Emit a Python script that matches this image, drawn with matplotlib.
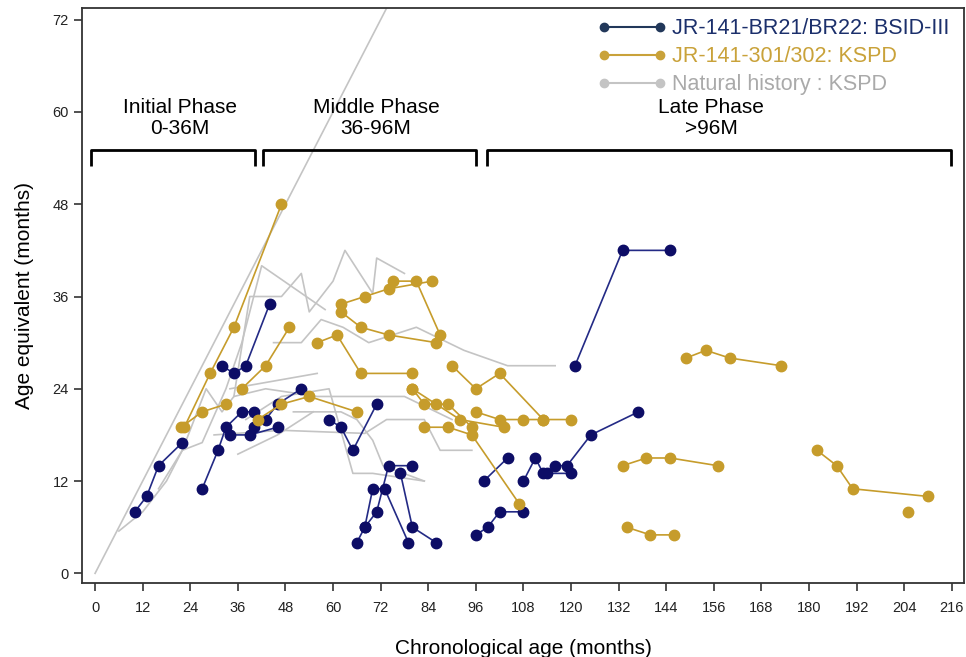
import matplotlib
matplotlib.use("Agg")
import matplotlib.pyplot as plt
from matplotlib.lines import Line2D

plt.rcParams['font.family'] = ['Liberation Sans', 'DejaVu Sans']

# JR-141-BR21/BR22 (BSID-III), one list per patient
bsid_x = [[10, 13, 16, 22], [27, 31, 33, 37, 40], [34, 39, 46], [40, 43, 46, 52],
          [32, 35, 38, 44], [59, 62, 65, 71], [66, 68, 71, 74, 80], [68, 70, 73, 79],
          [77, 80, 86], [96, 99, 102, 108], [98, 104], [108, 111, 113, 120],
          [114, 116, 119, 125, 137], [121, 133, 145]]
bsid_y = [[8, 10, 14, 17], [11, 16, 19, 21, 21], [18, 18, 19], [19, 20, 22, 24],
          [27, 26, 27, 35], [20, 19, 16, 22], [4, 6, 8, 14, 14], [6, 11, 11, 4],
          [13, 6, 4], [5, 6, 8, 8], [12, 15], [12, 15, 13, 13],
          [13, 14, 14, 18, 21], [27, 42, 42]]

# JR-141-301/302 (KSPD)
kspd_x = [[22.5, 29, 35, 47], [21.7, 27, 33], [37, 43, 49], [41, 47, 54, 66],
          [56, 61, 67, 80], [62, 68, 74, 85], [75, 81, 87], [62, 67, 74, 86],
          [80, 83, 86, 89, 95], [80, 92, 103], [83, 89, 95, 107],
          [90, 96, 102, 113, 120], [96, 102, 108, 113], [133, 139, 145, 157],
          [134, 140, 146], [149, 154, 160, 173], [182, 187, 191, 210], [205]]
kspd_y = [[19, 26, 32, 48], [19, 21, 22], [24, 27, 32], [20, 22, 23, 21],
          [30, 31, 26, 26], [35, 36, 37, 38], [38, 38, 31], [34, 32, 31, 30],
          [24, 22, 22, 22, 19], [24, 20, 19], [19, 19, 18, 9],
          [27, 24, 26, 20, 20], [21, 20, 20, 20], [14, 15, 15, 14],
          [6, 5, 5], [28, 29, 28, 27], [16, 14, 11, 10], [8]]

# natural history (KSPD)
nat_x = [[6, 12, 18, 22, 27, 33, 37, 42, 58],
         [16, 22, 28, 32, 35, 39, 47, 52, 54, 60, 63, 70, 71, 78],
         [45, 52, 57, 62.5, 69, 81, 93, 104, 116],
         [34, 56],
         [30, 47, 68, 73.5, 83, 87, 95],
         [35, 43, 56, 73, 78, 84, 90],
         [38, 47, 59, 65, 70, 83],
         [36, 46, 55],
         [50, 62, 66, 70, 72.6, 83]]
nat_y = [[5.5, 8, 12, 16, 17, 24, 30, 40, 34.3],
         [11, 16, 24, 21, 23, 36, 36, 39, 34, 38, 42, 36.4, 41, 39],
         [30, 30, 33, 32, 30, 32, 29, 27, 27],
         [24, 26],
         [18, 18.6, 18.2, 20, 20, 16, 16],
         [23, 24, 23, 23, 23, 21.5, 20],
         [20, 23, 24, 13, 13, 12],
         [15.5, 18, 21],
         [21, 21, 20, 17.3, 14, 12]]
identity = [0, 80]

phases = ["Initial Phase\n0-36M", "Middle Phase\n36-96M", "Late Phase\n>96M"]
phase_span = [(-1, 40.3), (42.3, 96), (98.7, 215.8)]
phase_mid = [21.4, 70.8, 155.4]

ticks_x = list(range(0, 217, 12))
ticks_y = list(range(0, 73, 12))

BLUE = '#0d0d66'
BLUE_LINE = '#232a85'
GOLD = '#c69c2b'
GRAY = '#c4c4c4'

fig = plt.figure(figsize=(9.66, 6.57), dpi=100)
ax = fig.add_axes([0.085, 0.1126, 0.913, 0.875])

ax.plot(identity, identity, color=GRAY, lw=1.2, zorder=1)
for xs, ys in zip(nat_x, nat_y):
    ax.plot(xs, ys, color=GRAY, lw=1.2, zorder=1)

for xs, ys in zip(bsid_x, bsid_y):
    ax.plot(xs, ys, color=BLUE_LINE, lw=1.2, marker='o', ms=7.5,
            mfc=BLUE, mec=BLUE, zorder=3)
for xs, ys in zip(kspd_x, kspd_y):
    ax.plot(xs, ys, color=GOLD, lw=1.2, marker='o', ms=7.5,
            mfc=GOLD, mec=GOLD, zorder=4)

# phase brackets
for label, (a, b), m in zip(phases, phase_span, phase_mid):
    ax.plot([a, a, b, b], [53.0, 55.0, 55.0, 53.0], color='black', lw=2,
            solid_joinstyle='round', solid_capstyle='butt', zorder=5)
    ax.text(m, 59.2, label, ha='center', va='center', fontsize=15,
            linespacing=1.1)

ax.set_xlim(-3.27, 219.1)
ax.set_ylim(-1.26, 73.5)
ax.set_xticks(ticks_x)
ax.set_yticks(ticks_y)
ax.tick_params(direction='out', length=6, width=1.1, labelsize=10.5,
               colors='#222222')
ax.tick_params(axis='x', pad=7)
ax.tick_params(axis='y', pad=3.5)
for s in ax.spines.values():
    s.set_linewidth(1.3)
    s.set_color('#333333')

ax.set_xlabel("Chronological age (months)", fontsize=15, labelpad=17)
ax.set_ylabel("Age equivalent (months)", fontsize=15, labelpad=13)

handles = [
    Line2D([0], [0], color='#22385a', lw=1.5, marker='o', ms=6),
    Line2D([0], [0], color='#c9a23a', lw=1.5, marker='o', ms=6),
    Line2D([0], [0], color='#c4c4c4', lw=1.5, marker='o', ms=6),
]
labels = ["JR-141-BR21/BR22: BSID-III", "JR-141-301/302: KSPD",
          "Natural history : KSPD"]
leg = ax.legend(handles, labels, loc='upper right', numpoints=2,
                frameon=False, fontsize=15.5, handlelength=3.2,
                handletextpad=0.25, labelspacing=0.33,
                bbox_to_anchor=(0.998, 1.005), borderaxespad=0.2)
for t, c in zip(leg.get_texts(), ['#1b2f6b', '#c9a23a', '#aaaaaa']):
    t.set_color(c)

fig.savefig("out.png", dpi=100)
